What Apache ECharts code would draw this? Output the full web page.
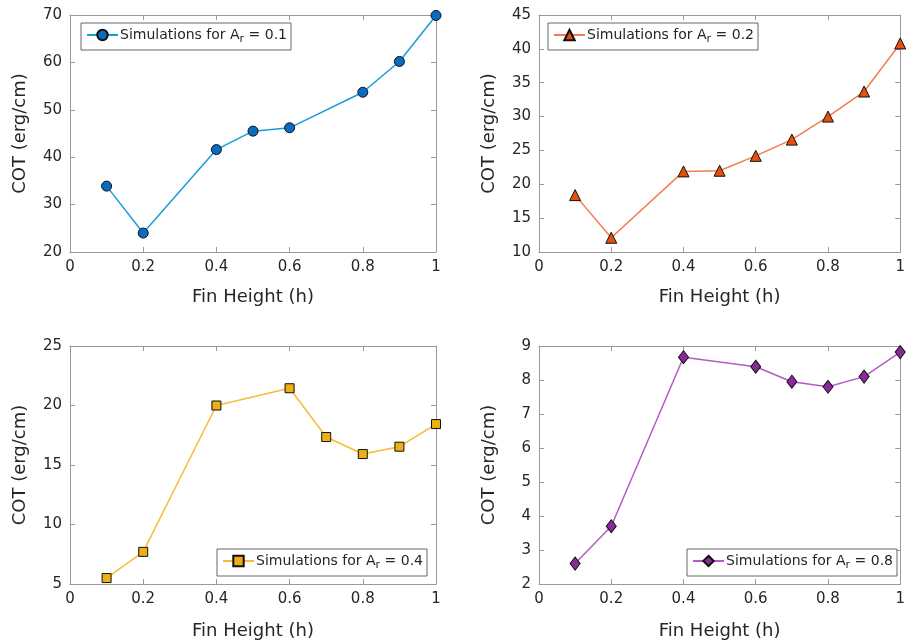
<!DOCTYPE html>
<html><head><meta charset="utf-8">
<script src="https://cdn.jsdelivr.net/npm/echarts@6/dist/echarts.min.js"></script>
<style>html,body{margin:0;padding:0;background:#fff}#c{width:908px;height:642px}</style>
</head><body><div id="c"></div>
<script>
// ---- data ----
const x1 = [0.1, 0.2, 0.4, 0.5, 0.6, 0.8, 0.9, 1.0];
const y1 = [33.9, 24.0, 41.6, 45.5, 46.2, 53.7, 60.2, 69.9];
const x2 = [0.1, 0.2, 0.4, 0.5, 0.6, 0.7, 0.8, 0.9, 1.0];
const y2 = [18.4, 12.1, 21.9, 22.0, 24.2, 26.6, 30.0, 33.7, 40.8];
const x3 = [0.1, 0.2, 0.4, 0.6, 0.7, 0.8, 0.9, 1.0];
const y3 = [5.5, 7.7, 20.0, 21.45, 17.35, 15.92, 16.54, 18.44];
const x4 = [0.1, 0.2, 0.4, 0.6, 0.7, 0.8, 0.9, 1.0];
const y4 = [2.6, 3.7, 8.67, 8.39, 7.95, 7.8, 8.1, 8.82];
const arValues = ['0.1', '0.2', '0.4', '0.8'];
const yMin = [20, 10, 5, 2];
const yMax = [70, 45, 25, 9];
const yStep = [10, 5, 5, 1];
const xTitle = 'Fin Height (h)';
const yTitle = 'COT (erg/cm)';

const xs = [x1, x2, x3, x4], ys = [y1, y2, y3, y4];
const lineColors = ['#1a9bdb', '#f57b4c', '#f9bb35', '#b35cc3'];
const fillColors = ['#0a6cc0', '#e4500e', '#edaf12', '#8a2a99'];
const symbols = ['circle', 'triangle', 'rect', 'diamond'];
const symSizes = [10, 11, 9, [10, 13]];

const grids = [
  {left: 70, top: 15, width: 366, height: 237},
  {left: 539, top: 15, width: 365, height: 237},
  {left: 70, top: 346, width: 366, height: 238},
  {left: 539, top: 346, width: 365, height: 238}
];
const nameGaps = [36, 36, 38, 38];
const legendPos = [
  {left: 81, top: 23},
  {left: 548, top: 23},
  {left: 217, top: 549},
  {left: 687, top: 549}
];
const FONT = 'DejaVu Sans';
const axisGrey = '#9a9a9a';
const txt = '#262626';

const names = arValues.map(v => 'Simulations for A_r = ' + v);
const option = {
  animation: false,
  backgroundColor: '#fff',
  textStyle: {fontFamily: FONT},
  grid: grids.map(g => Object.assign({containLabel: false}, g)),
  xAxis: [], yAxis: [], series: [], legend: []
};
for (let i = 0; i < 4; i++) {
  option.xAxis.push({
    type: 'value', gridIndex: i, min: 0, max: 1, interval: 0.2, position: 'bottom',
    name: xTitle, nameLocation: 'middle', nameGap: nameGaps[i],
    nameTextStyle: {fontFamily: FONT, fontSize: 18, color: txt},
    axisLine: {show: true, lineStyle: {color: axisGrey, width: 1}},
    axisTick: {show: true, inside: true, length: 5, lineStyle: {color: axisGrey}},
    axisLabel: {fontFamily: FONT, fontSize: 15, color: txt, margin: 8},
    splitLine: {show: false}
  });
  option.yAxis.push({
    type: 'value', gridIndex: i, min: yMin[i], max: yMax[i], interval: yStep[i], position: 'left',
    name: yTitle, nameLocation: 'middle', nameGap: 41, nameRotate: 90,
    nameTextStyle: {fontFamily: FONT, fontSize: 18, color: txt},
    axisLine: {show: true, lineStyle: {color: axisGrey, width: 1}},
    axisTick: {show: true, inside: true, length: 5, lineStyle: {color: axisGrey}},
    axisLabel: {fontFamily: FONT, fontSize: 15, color: txt, margin: 8},
    splitLine: {show: false}
  });
}
for (let i = 0; i < 4; i++) {
  option.xAxis.push({
    type: 'value', gridIndex: i, min: 0, max: 1, interval: 0.2, position: 'top',
    axisLine: {show: true, onZero: false, lineStyle: {color: axisGrey, width: 1}},
    axisTick: {show: true, inside: true, length: 5, lineStyle: {color: axisGrey}},
    axisLabel: {show: false}, splitLine: {show: false}
  });
  option.yAxis.push({
    type: 'value', gridIndex: i, min: yMin[i], max: yMax[i], interval: yStep[i], position: 'right',
    axisLine: {show: true, onZero: false, lineStyle: {color: axisGrey, width: 1}},
    axisTick: {show: true, inside: true, length: 5, lineStyle: {color: axisGrey}},
    axisLabel: {show: false}, splitLine: {show: false}
  });
}
for (let i = 0; i < 4; i++) {
  option.series.push({
    type: 'line', name: names[i], xAxisIndex: i, yAxisIndex: i,
    data: xs[i].map((x, k) => [x, ys[i][k]]),
    symbol: symbols[i], symbolSize: symSizes[i], showAllSymbol: true,
    lineStyle: {color: lineColors[i], width: 1.5},
    itemStyle: {color: fillColors[i], borderColor: '#111', borderWidth: 1},
    clip: false, z: 3
  });
  const v = arValues[i];
  option.legend.push({
    data: [names[i]], left: legendPos[i].left, top: legendPos[i].top,
    orient: 'horizontal', itemWidth: 31, itemHeight: 13, itemGap: 0,
    backgroundColor: '#fff', borderColor: '#666', borderWidth: 1, borderRadius: 0,
    padding: [5, 4, 5, 5],
    formatter: function () { return '{t|Simulations for A}{s|r}{t| = ' + v + '}'; },
    textStyle: {
      fontFamily: FONT, fontSize: 14, color: txt, padding: [0, 0, 0, -3],
      rich: {
        t: {fontFamily: FONT, fontSize: 14, color: txt, lineHeight: 17},
        s: {fontFamily: FONT, fontSize: 11, color: txt, padding: [9, 0, 0, 0]}
      }
    }
  });
}
const chart = echarts.init(document.getElementById('c'), null, {renderer: 'canvas'});
chart.setOption(option);
</script>
</body></html>
